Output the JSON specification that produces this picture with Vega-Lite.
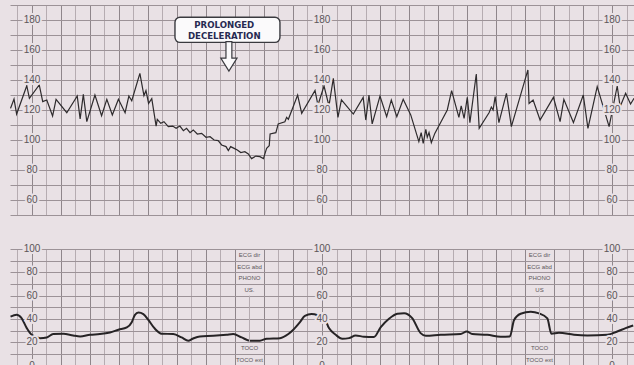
{
  "$schema": "https://vega.github.io/schema/vega-lite/v6.json",
  "background": "#e9e1e5",
  "padding": {"left": 10, "top": 5, "right": 0, "bottom": 0},
  "spacing": 29,
  "config": {
    "view": {"stroke": null}
  },
  "datasets": {
    "fhr": [
      {"minute": -0.74, "bpm": 121.1}, {"minute": -0.62, "bpm": 127.3}, {"minute": -0.53, "bpm": 117.3},
      {"minute": -0.18, "bpm": 136.2}, {"minute": -0.09, "bpm": 127.8}, {"minute": 0.25, "bpm": 136.7},
      {"minute": 0.37, "bpm": 125.6}, {"minute": 0.51, "bpm": 126.7}, {"minute": 0.71, "bpm": 116.0},
      {"minute": 0.83, "bpm": 127.1}, {"minute": 1.2, "bpm": 118.2}, {"minute": 1.56, "bpm": 129.3},
      {"minute": 1.66, "bpm": 114.0}, {"minute": 1.77, "bpm": 130.4}, {"minute": 1.89, "bpm": 112.2},
      {"minute": 2.17, "bpm": 130.0}, {"minute": 2.4, "bpm": 116.2}, {"minute": 2.58, "bpm": 127.1},
      {"minute": 2.77, "bpm": 116.7}, {"minute": 2.98, "bpm": 127.1}, {"minute": 3.21, "bpm": 118.2},
      {"minute": 3.34, "bpm": 129.3}, {"minute": 3.44, "bpm": 126.2}, {"minute": 3.72, "bpm": 144.4},
      {"minute": 3.86, "bpm": 129.6}, {"minute": 3.93, "bpm": 132.9}, {"minute": 4.02, "bpm": 124.4},
      {"minute": 4.13, "bpm": 127.6}, {"minute": 4.28, "bpm": 109.3}, {"minute": 4.32, "bpm": 113.8},
      {"minute": 4.44, "bpm": 111.1}, {"minute": 4.55, "bpm": 112.2}, {"minute": 4.7, "bpm": 108.9},
      {"minute": 4.85, "bpm": 109.3}, {"minute": 4.97, "bpm": 107.8}, {"minute": 5.1, "bpm": 109.3},
      {"minute": 5.22, "bpm": 106.2}, {"minute": 5.33, "bpm": 107.8}, {"minute": 5.45, "bpm": 104.9},
      {"minute": 5.56, "bpm": 106.7}, {"minute": 5.7, "bpm": 104.0}, {"minute": 5.85, "bpm": 104.4},
      {"minute": 6.0, "bpm": 101.8}, {"minute": 6.14, "bpm": 102.2}, {"minute": 6.28, "bpm": 100.0},
      {"minute": 6.42, "bpm": 99.6}, {"minute": 6.54, "bpm": 96.7}, {"minute": 6.69, "bpm": 95.6},
      {"minute": 6.77, "bpm": 92.9}, {"minute": 6.85, "bpm": 95.6}, {"minute": 6.97, "bpm": 94.4},
      {"minute": 7.08, "bpm": 93.3}, {"minute": 7.2, "bpm": 91.6}, {"minute": 7.34, "bpm": 92.2},
      {"minute": 7.46, "bpm": 90.7}, {"minute": 7.57, "bpm": 87.6}, {"minute": 7.72, "bpm": 89.3},
      {"minute": 7.86, "bpm": 88.9}, {"minute": 7.98, "bpm": 87.6}, {"minute": 8.09, "bpm": 94.4},
      {"minute": 8.18, "bpm": 96.2}, {"minute": 8.21, "bpm": 104.0}, {"minute": 8.41, "bpm": 104.9},
      {"minute": 8.49, "bpm": 110.7}, {"minute": 8.72, "bpm": 112.2}, {"minute": 8.78, "bpm": 115.1},
      {"minute": 8.84, "bpm": 113.8}, {"minute": 9.16, "bpm": 130.0}, {"minute": 9.3, "bpm": 117.8},
      {"minute": 9.76, "bpm": 133.0}, {"minute": 9.86, "bpm": 123.3}, {"minute": 10.07, "bpm": 136.0},
      {"minute": 10.24, "bpm": 122.7}, {"minute": 10.39, "bpm": 141.1}, {"minute": 10.55, "bpm": 115.1},
      {"minute": 10.67, "bpm": 126.7}, {"minute": 11.08, "bpm": 117.3}, {"minute": 11.42, "bpm": 128.4},
      {"minute": 11.51, "bpm": 113.3}, {"minute": 11.62, "bpm": 130.0}, {"minute": 11.73, "bpm": 110.7},
      {"minute": 12.0, "bpm": 129.3}, {"minute": 12.23, "bpm": 115.6}, {"minute": 12.39, "bpm": 126.7},
      {"minute": 12.58, "bpm": 115.6}, {"minute": 12.8, "bpm": 127.1}, {"minute": 13.06, "bpm": 116.7},
      {"minute": 13.34, "bpm": 98.9}, {"minute": 13.42, "bpm": 104.9}, {"minute": 13.49, "bpm": 97.8},
      {"minute": 13.58, "bpm": 107.1}, {"minute": 13.63, "bpm": 101.8}, {"minute": 13.69, "bpm": 104.9},
      {"minute": 13.77, "bpm": 98.2}, {"minute": 13.89, "bpm": 104.4}, {"minute": 14.32, "bpm": 120.0},
      {"minute": 14.47, "bpm": 132.9}, {"minute": 14.72, "bpm": 115.1}, {"minute": 14.8, "bpm": 122.7},
      {"minute": 14.9, "bpm": 114.4}, {"minute": 15.01, "bpm": 128.4}, {"minute": 15.1, "bpm": 111.6},
      {"minute": 15.32, "bpm": 144.0}, {"minute": 15.42, "bpm": 107.8}, {"minute": 15.76, "bpm": 118.2},
      {"minute": 15.84, "bpm": 122.0}, {"minute": 15.9, "bpm": 120.0}, {"minute": 15.97, "bpm": 128.9},
      {"minute": 16.1, "bpm": 111.6}, {"minute": 16.36, "bpm": 131.1}, {"minute": 16.53, "bpm": 108.9},
      {"minute": 17.1, "bpm": 146.7}, {"minute": 17.14, "bpm": 124.4}, {"minute": 17.28, "bpm": 126.7},
      {"minute": 17.52, "bpm": 113.3}, {"minute": 17.98, "bpm": 128.4}, {"minute": 18.21, "bpm": 112.2},
      {"minute": 18.34, "bpm": 127.1}, {"minute": 18.67, "bpm": 111.6}, {"minute": 19.01, "bpm": 130.0},
      {"minute": 19.17, "bpm": 107.8}, {"minute": 19.49, "bpm": 135.6}, {"minute": 19.9, "bpm": 108.9},
      {"minute": 20.18, "bpm": 136.0}, {"minute": 20.28, "bpm": 122.2}, {"minute": 20.47, "bpm": 131.1},
      {"minute": 20.64, "bpm": 124.0}, {"minute": 20.76, "bpm": 127.8}
    ],
    "toco": [
      {"minute": -0.74, "level": 42.1}, {"minute": -0.53, "level": 43.6}, {"minute": -0.36, "level": 40.7},
      {"minute": -0.18, "level": 32.2}, {"minute": -0.01, "level": 26.5}, {"minute": 0.28, "level": 23.6},
      {"minute": 0.51, "level": 24.2}, {"minute": 0.73, "level": 27.1}, {"minute": 1.08, "level": 27.4},
      {"minute": 1.42, "level": 25.9}, {"minute": 1.66, "level": 25.1}, {"minute": 2.0, "level": 26.5},
      {"minute": 2.34, "level": 27.1}, {"minute": 2.69, "level": 28.5}, {"minute": 2.98, "level": 30.8},
      {"minute": 3.27, "level": 32.8}, {"minute": 3.44, "level": 37.3}, {"minute": 3.55, "level": 43.6},
      {"minute": 3.67, "level": 45.6}, {"minute": 3.84, "level": 44.2}, {"minute": 4.01, "level": 39.3},
      {"minute": 4.24, "level": 31.6}, {"minute": 4.47, "level": 27.4}, {"minute": 4.87, "level": 27.1},
      {"minute": 5.16, "level": 24.2}, {"minute": 5.39, "level": 21.4}, {"minute": 5.54, "level": 23.1},
      {"minute": 5.79, "level": 25.1}, {"minute": 6.25, "level": 25.6}, {"minute": 6.71, "level": 26.5},
      {"minute": 6.94, "level": 27.1}, {"minute": 7.23, "level": 24.2}, {"minute": 7.52, "level": 21.4},
      {"minute": 7.86, "level": 21.4}, {"minute": 8.09, "level": 23.1}, {"minute": 8.55, "level": 23.6},
      {"minute": 8.84, "level": 27.1}, {"minute": 9.01, "level": 30.8}, {"minute": 9.24, "level": 37.3},
      {"minute": 9.41, "level": 42.7}, {"minute": 9.64, "level": 44.2}, {"minute": 9.87, "level": 43.0},
      {"minute": 9.96, "level": 42.1}, {"minute": 10.07, "level": 41.3}, {"minute": 10.24, "level": 32.2},
      {"minute": 10.47, "level": 26.5}, {"minute": 10.7, "level": 23.1}, {"minute": 10.93, "level": 23.6},
      {"minute": 11.16, "level": 25.9}, {"minute": 11.45, "level": 24.8}, {"minute": 11.79, "level": 24.5},
      {"minute": 12.02, "level": 32.8}, {"minute": 12.31, "level": 40.2}, {"minute": 12.6, "level": 44.5},
      {"minute": 12.83, "level": 45.0}, {"minute": 13.11, "level": 40.7}, {"minute": 13.4, "level": 27.9},
      {"minute": 13.58, "level": 25.6}, {"minute": 14.09, "level": 26.5}, {"minute": 14.78, "level": 27.1},
      {"minute": 14.99, "level": 29.3}, {"minute": 15.18, "level": 27.1}, {"minute": 15.7, "level": 26.5},
      {"minute": 16.16, "level": 24.8}, {"minute": 16.48, "level": 25.1}, {"minute": 16.62, "level": 38.9},
      {"minute": 16.85, "level": 44.5}, {"minute": 17.2, "level": 46.2}, {"minute": 17.48, "level": 44.8},
      {"minute": 17.77, "level": 40.5}, {"minute": 17.91, "level": 27.4}, {"minute": 18.17, "level": 28.2},
      {"minute": 18.69, "level": 26.5}, {"minute": 19.15, "level": 25.9}, {"minute": 19.84, "level": 26.5},
      {"minute": 20.18, "level": 29.3}, {"minute": 20.47, "level": 32.2}, {"minute": 20.73, "level": 34.5}
    ],
    "fhrScale": [
      {"minute": 0, "level": 180}, {"minute": 0, "level": 160}, {"minute": 0, "level": 140}, {"minute": 0, "level": 120},
      {"minute": 0, "level": 100}, {"minute": 0, "level": 80}, {"minute": 0, "level": 60},
      {"minute": 10, "level": 180}, {"minute": 10, "level": 160}, {"minute": 10, "level": 140}, {"minute": 10, "level": 120},
      {"minute": 10, "level": 100}, {"minute": 10, "level": 80}, {"minute": 10, "level": 60},
      {"minute": 20, "level": 180}, {"minute": 20, "level": 160}, {"minute": 20, "level": 140}, {"minute": 20, "level": 120},
      {"minute": 20, "level": 100}, {"minute": 20, "level": 80}, {"minute": 20, "level": 60}
    ],
    "tocoScale": [
      {"minute": 0, "level": 100}, {"minute": 0, "level": 80}, {"minute": 0, "level": 60},
      {"minute": 0, "level": 40}, {"minute": 0, "level": 20}, {"minute": 0, "level": 0},
      {"minute": 10, "level": 100}, {"minute": 10, "level": 80}, {"minute": 10, "level": 60},
      {"minute": 10, "level": 40}, {"minute": 10, "level": 20}, {"minute": 10, "level": 0},
      {"minute": 20, "level": 100}, {"minute": 20, "level": 80}, {"minute": 20, "level": 60},
      {"minute": 20, "level": 40}, {"minute": 20, "level": 20}, {"minute": 20, "level": 0}
    ],
    "channels": [
      {"minute": 7.5, "level": 95, "name": "ECG dir"}, {"minute": 7.5, "level": 85, "name": "ECG abd"},
      {"minute": 7.5, "level": 75, "name": "PHONO"}, {"minute": 7.5, "level": 65, "name": "US."},
      {"minute": 7.5, "level": 15, "name": "TOCO"}, {"minute": 7.5, "level": 4.5, "name": "TOCO ext"},
      {"minute": 17.5, "level": 95, "name": "ECG dir"}, {"minute": 17.5, "level": 85, "name": "ECG abd"},
      {"minute": 17.5, "level": 75, "name": "PHONO"}, {"minute": 17.5, "level": 65, "name": "US"},
      {"minute": 17.5, "level": 15, "name": "TOCO"}, {"minute": 17.5, "level": 4.5, "name": "TOCO ext"}
    ],
    "dividers": [
      {"minute": 7.5, "low": 20, "high": 60},
      {"minute": 17.5, "low": 20, "high": 60}
    ],
    "callout": [
      {"minute": 4.93, "end": 8.55, "level": 165.1, "top": 181.8}
    ],
    "calloutText": [
      {"minute": 6.63, "level": 176.7, "line": "PROLONGED"},
      {"minute": 6.63, "level": 169.3, "line": "DECELERATION"}
    ],
    "arrow": [
      {"minute": 6.79, "level": 155.8}
    ]
  },
  "vconcat": [
    {
      "width": 624,
      "height": 210,
      "encoding": {
        "x": {"field": "minute", "type": "quantitative",
              "scale": {"domain": [-0.7586, 20.7586], "nice": false, "zero": false},
              "axis": {"title": null, "labels": false, "ticks": false, "domain": false, "grid": true, "gridOpacity": 1, "gridWidth": 1,
                       "values": [-0.5,0,0.5,1,1.5,2,2.5,3,3.5,4,4.5,5,5.5,6,6.5,7,7.5,8,8.5,9,9.5,10,10.5,11,11.5,12,12.5,13,13.5,14,14.5,15,15.5,16,16.5,17,17.5,18,18.5,19,19.5,20,20.5],
                       "gridColor": {"condition": {"test": "datum.value % 1 === 0", "value": "#8f868b"}, "value": "#b6acb1"}}},
        "y": {"field": "level", "type": "quantitative",
              "scale": {"domain": [50, 190], "nice": false, "zero": false},
              "axis": {"title": null, "labels": false, "ticks": false, "domain": false, "grid": true, "gridOpacity": 1, "gridWidth": 1,
                       "values": [50,60,70,80,90,100,110,120,130,140,150,160,170,180,190], "gridColor": "#9c9297"}}
      },
      "layer": [
        {
          "data": {"name": "fhr"},
          "mark": {"type": "line", "color": "#2e2b2d", "strokeWidth": 1.2, "clip": true},
          "encoding": {"y": {"field": "bpm", "type": "quantitative"}}
        },
        {
          "data": {"name": "fhrScale"},
          "mark": {"type": "text", "font": "Liberation Sans", "fontSize": 10, "stroke": "#e9e1e5", "strokeWidth": 4, "color": "#e9e1e5"},
          "encoding": {"text": {"field": "level", "type": "quantitative"}}
        },
        {
          "data": {"name": "fhrScale"},
          "mark": {"type": "text", "font": "Liberation Sans", "fontSize": 10, "color": "#5b5559"},
          "encoding": {"text": {"field": "level", "type": "quantitative"}}
        },
        {
          "data": {"name": "callout"},
          "mark": {"type": "rect", "fill": "#fbfafb", "stroke": "#3a3a3f", "strokeWidth": 1.4, "cornerRadius": 5},
          "encoding": {"x2": {"field": "end"}, "y2": {"field": "top"}}
        },
        {
          "data": {"name": "calloutText"},
          "mark": {"type": "text", "font": "DejaVu Sans", "fontWeight": "bold", "fontSize": 8.6, "color": "#272a52"},
          "encoding": {"text": {"field": "line"}}
        },
        {
          "data": {"name": "arrow"},
          "mark": {"type": "point", "filled": true, "fill": "#fbfafb", "stroke": "#3a3a3f", "strokeWidth": 1.2, "opacity": 1, "size": 870,
                   "shape": "M-0.2,-1 L0.2,-1 L0.2,0.12 L0.55,0.12 L0,1 L-0.55,0.12 L-0.2,0.12 Z"}
        }
      ]
    },
    {
      "width": 624,
      "height": 119,
      "encoding": {
        "x": {"field": "minute", "type": "quantitative",
              "scale": {"domain": [-0.7586, 20.7586], "nice": false, "zero": false},
              "axis": {"title": null, "labels": false, "ticks": false, "domain": false, "grid": true, "gridOpacity": 1, "gridWidth": 1,
                       "values": [-0.5,0,0.5,1,1.5,2,2.5,3,3.5,4,4.5,5,5.5,6,6.5,7,8,8.5,9,9.5,10,10.5,11,11.5,12,12.5,13,13.5,14,14.5,15,15.5,16,16.5,17,18,18.5,19,19.5,20,20.5],
                       "gridColor": {"condition": {"test": "datum.value % 1 === 0", "value": "#8f868b"}, "value": "#b6acb1"}}},
        "y": {"field": "level", "type": "quantitative",
              "scale": {"domain": [-2, 100], "nice": false, "zero": false},
              "axis": {"title": null, "labels": false, "ticks": false, "domain": false, "grid": true, "gridOpacity": 1, "gridWidth": 1,
                       "values": [0,10,20,30,40,50,60,70,80,90,100], "gridColor": "#9c9297"}}
      },
      "layer": [
        {
          "data": {"name": "toco"},
          "mark": {"type": "line", "color": "#262325", "strokeWidth": 2, "interpolate": "monotone", "clip": true}
        },
        {
          "data": {"name": "dividers"},
          "mark": {"type": "rule", "color": "#b6acb1", "strokeWidth": 1},
          "encoding": {"y": {"field": "low", "type": "quantitative"}, "y2": {"field": "high"}}
        },
        {
          "data": {"name": "tocoScale"},
          "mark": {"type": "text", "font": "Liberation Sans", "fontSize": 10, "stroke": "#e9e1e5", "strokeWidth": 4, "color": "#e9e1e5"},
          "encoding": {"text": {"field": "level", "type": "quantitative"}}
        },
        {
          "data": {"name": "tocoScale"},
          "mark": {"type": "text", "font": "Liberation Sans", "fontSize": 10, "color": "#5b5559"},
          "encoding": {"text": {"field": "level", "type": "quantitative"}}
        },
        {
          "data": {"name": "channels"},
          "mark": {"type": "text", "font": "Liberation Sans", "fontSize": 6, "color": "#5b5559"},
          "encoding": {"text": {"field": "name"}}
        }
      ]
    }
  ]
}
